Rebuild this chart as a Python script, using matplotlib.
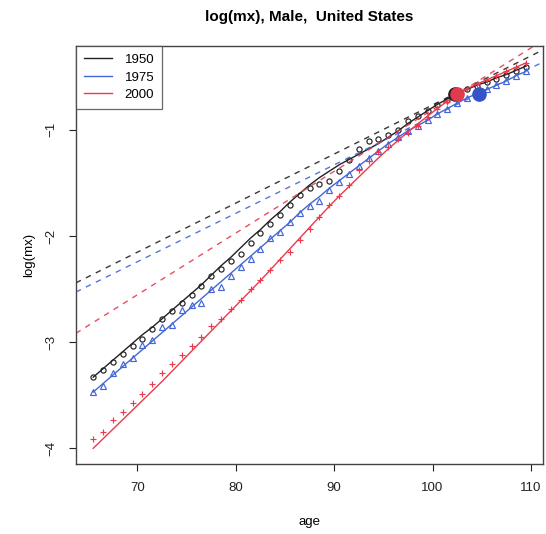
import matplotlib

matplotlib.use("Agg")
import matplotlib.pyplot as plt
import numpy as np

plt.rcParams["font.family"] = ["Liberation Sans", "DejaVu Sans"]

# wiek (środki przedziałów 65.5 ... 109.5)
ages = np.arange(65.5, 110.0, 1.0)

# obserwowane log(mx)
obs_1950 = [-3.325, -3.26, -3.19, -3.11, -3.04, -2.97, -2.88, -2.78, -2.71, -2.63,
            -2.56, -2.47, -2.38, -2.31, -2.235, -2.17, -2.07, -1.97, -1.89, -1.80,
            -1.71, -1.61, -1.55, -1.51, -1.48, -1.39, -1.28, -1.18, -1.11, -1.09,
            -1.05, -1.00, -0.92, -0.87, -0.82, -0.77, -0.72, -0.66, -0.62, -0.59,
            -0.55, -0.52, -0.48, -0.45, -0.41]
obs_1975 = [-3.466, -3.41, -3.29, -3.21, -3.15, -3.03, -2.98, -2.86, -2.84, -2.70,
            -2.65, -2.63, -2.50, -2.48, -2.38, -2.29, -2.22, -2.12, -2.02, -1.96,
            -1.87, -1.785, -1.72, -1.67, -1.57, -1.49, -1.42, -1.34, -1.27, -1.20,
            -1.13, -1.07, -1.01, -0.96, -0.91, -0.85, -0.80, -0.75, -0.70, -0.66,
            -0.62, -0.58, -0.54, -0.49, -0.45]
obs_2000 = [-3.915, -3.85, -3.73, -3.655, -3.575, -3.49, -3.39, -3.29, -3.205, -3.12,
            -3.04, -2.955, -2.85, -2.78, -2.69, -2.60, -2.50, -2.41, -2.32, -2.225,
            -2.15, -2.04, -1.93, -1.82, -1.71, -1.62, -1.52, -1.38, -1.29, -1.21,
            -1.16, -1.09, -1.03, -0.96, -0.88, -0.80, -0.74, -0.67, -0.62, -0.57,
            -0.53, -0.49, -0.45, -0.41, -0.37]

# dopasowane krzywe
fit_1950 = [-3.33, -3.25, -3.17, -3.09, -3.01, -2.93, -2.86, -2.78, -2.70, -2.62,
            -2.54, -2.46, -2.37, -2.28, -2.20, -2.11, -2.02, -1.94, -1.85, -1.77,
            -1.68, -1.60, -1.52, -1.45, -1.39, -1.33, -1.28, -1.23, -1.18, -1.13,
            -1.07, -1.01, -0.94, -0.88, -0.82, -0.76, -0.71, -0.66, -0.62, -0.58,
            -0.55, -0.51, -0.48, -0.44, -0.40]
fit_1975 = [-3.47, -3.39, -3.31, -3.23, -3.15, -3.07, -2.99, -2.91, -2.83, -2.75,
            -2.67, -2.59, -2.51, -2.43, -2.35, -2.27, -2.19, -2.11, -2.03, -1.95,
            -1.87, -1.78, -1.70, -1.63, -1.55, -1.48, -1.41, -1.34, -1.27, -1.20,
            -1.13, -1.07, -1.01, -0.96, -0.91, -0.85, -0.80, -0.75, -0.70, -0.66,
            -0.62, -0.58, -0.54, -0.49, -0.45]
fit_2000 = [-4.00, -3.91, -3.82, -3.73, -3.64, -3.55, -3.46, -3.37, -3.275, -3.18,
            -3.085, -2.99, -2.895, -2.80, -2.705, -2.61, -2.515, -2.42, -2.32, -2.22,
            -2.12, -2.02, -1.92, -1.82, -1.72, -1.625, -1.535, -1.445, -1.355, -1.265,
            -1.18, -1.10, -1.02, -0.945, -0.87, -0.80, -0.73, -0.665, -0.615, -0.57,
            -0.53, -0.49, -0.45, -0.41, -0.37]

# punkty przejścia (duże kropki) i nachylenia prostych Gompertza
years = ["1950", "1975", "2000"]
dot_age = [102.3, 104.7, 102.5]
dot_logm = [-0.66, -0.66, -0.665]
gomp_slope = [0.0462, 0.0456, 0.0581]

colors = ["#222222", "#4466d6", "#ea3a4c"]
dot_colors = ["#1a1a1a", "#3552c8", "#e03a4d"]
markers = ["o", "^", "+"]
msizes = [3.7, 3.7, 5.0]
obs = [obs_1950, obs_1975, obs_2000]
fits = [fit_1950, fit_1975, fit_2000]

fig = plt.figure(figsize=(5.46, 5.34), dpi=100)
ax = fig.add_axes([0.139, 0.131, 0.856, 0.783])

handles = []
for i in range(3):
    ax.axline((dot_age[i], dot_logm[i]), slope=gomp_slope[i], color=colors[i],
              linestyle=(0, (4, 4)), linewidth=1.0, alpha=0.9)
    ax.plot(ages, obs[i], linestyle="none", marker=markers[i], markersize=msizes[i],
            markerfacecolor="none", markeredgecolor=colors[i], markeredgewidth=0.85)
    ln, = ax.plot(ages, fits[i], color=colors[i], linewidth=1.0, label=years[i])
    handles.append(ln)

# duże kropki (czarna pod czerwoną)
for i in [0, 2, 1]:
    ax.plot(dot_age[i], dot_logm[i], "o", color=dot_colors[i], markersize=9.5, zorder=5)

ax.set_xlim(63.74, 111.26)
ax.set_ylim(-4.148, -0.21)
ax.set_xticks([70, 80, 90, 100, 110])
ax.set_yticks([-4, -3, -2, -1])
for lab in ax.get_yticklabels():
    lab.set_rotation(90)
    lab.set_va("center")
ax.tick_params(direction="out", length=5, labelsize=9.5, colors="#222222", pad=8)
for s in ax.spines.values():
    s.set_color("#444444")
    s.set_linewidth(1.0)

ax.set_xlabel("age", fontsize=9.5, labelpad=16)
ax.set_ylabel("log(mx)", fontsize=9.5, labelpad=8)
ax.set_title("log(mx), Male,  United States", fontsize=11, fontweight="bold", pad=18)

leg = ax.legend(handles=handles, loc="upper left", fontsize=9.5, frameon=True,
                fancybox=False, edgecolor="#444444", borderaxespad=0,
                handlelength=2.1, borderpad=0.6, labelspacing=0.4, handletextpad=1.0)
leg.get_frame().set_linewidth(0.9)

plt.savefig("out.png", dpi=100)
plt.close()
